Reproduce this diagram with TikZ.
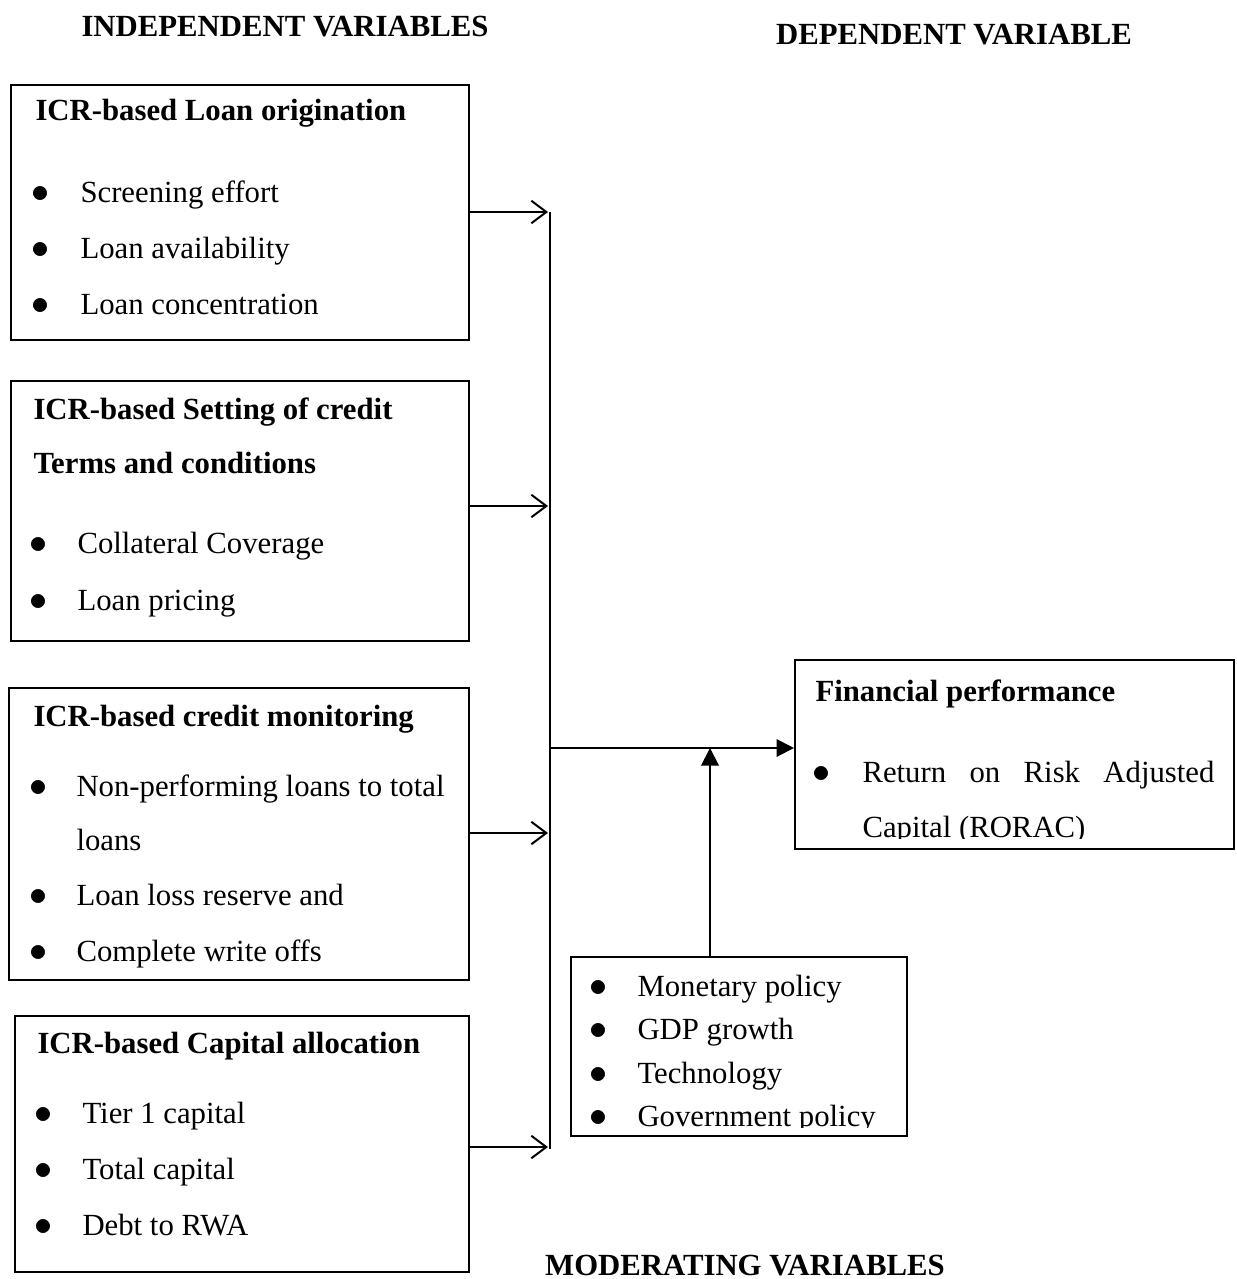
\documentclass[tikz,border=0pt]{standalone}
\usepackage{fontspec}
\setmainfont{Liberation Serif}
\usetikzlibrary{arrows.meta,fit}
\newcommand{\bodysize}{\fontsize{12.3}{14}\selectfont}
\newcommand{\blt}{\raisebox{-0.3pt}{\scalebox{1.2}{$\bullet$}}}
\tikzset{
  frame/.style={draw,line width=0.8pt,inner sep=0pt,fit={#1}},
  head/.style={font=\bodysize\bfseries,anchor=base,inner sep=0pt},
  title/.style={font=\bodysize\bfseries,anchor=base west,inner sep=0pt},
  item/.style={font=\bodysize,anchor=base west,inner sep=0pt},
  dot/.style={font=\bodysize,anchor=base,inner sep=0pt},
  feed/.style={-{Straight Barb[length=6pt,width=9pt]},line width=0.8pt},
  link/.style={-{Triangle[length=7pt,width=7pt]},line width=0.8pt}
}

\begin{document}
\begin{tikzpicture}[x=0.4pt,y=-0.4pt]
  \useasboundingbox (0,0) rectangle (1237,1279);
  % headings
  \node[head] (hindep) at (285,37) {INDEPENDENT VARIABLES};
  \node[head] (hdep) at (954,45) {DEPENDENT VARIABLE};
  \node[head] (hmod) at (745,1275) {MODERATING VARIABLES};

  % independent variable boxes
  \node[frame={(11,85)(469,340)}] (orig) {};
  \node[title] (origt) at (35,121) {ICR-based Loan origination};
  \foreach \y/\t in {202/Screening effort,258/Loan availability,314/Loan concentration}{
    \node[dot] at (40,\y) {\blt};
    \node[item] at (80,\y) {\t};}

  \node[frame={(11,381)(469,641)}] (terms) {};
  \node[title] (termst) at (33,419) {ICR-based Setting of credit};
  \node[title] (termst2) at (33,473) {Terms and conditions};
  \foreach \y/\t in {553/Collateral Coverage,610/Loan pricing}{
    \node[dot] at (38,\y) {\blt};
    \node[item] at (77,\y) {\t};}

  \node[frame={(9,688)(469,980)}] (monit) {};
  \node[title] (monitt) at (33,726) {ICR-based credit monitoring};
  \foreach \y/\t in {796/Non-performing loans to total,905/Loan loss reserve and,961/Complete write offs}{
    \node[dot] at (38,\y) {\blt};
    \node[item] at (76,\y) {\t};}
  \node[item] at (76,850) {loans};

  \node[frame={(15,1016)(469,1272)}] (alloc) {};
  \node[title] (alloct) at (37,1053) {ICR-based Capital allocation};
  \foreach \y/\t in {1123/Tier 1 capital,1179/Total capital,1235/Debt to RWA}{
    \node[dot] at (43,\y) {\blt};
    \node[item] at (82,\y) {\t};}

  % dependent variable
  \node[frame={(795,660)(1234,849)}] (perf) {};
  \node[title] (perft) at (815,701) {Financial performance};
  \node[dot] at (821,782) {\blt};
  \node[item] at (862,782) {\makebox[140.8pt][s]{Return\hfill on\hfill Risk\hfill Adjusted}};
  \begin{scope}
    \clip (795,660) rectangle (1234,838);
    \node[item] at (862,837) {Capital (RORAC)};
  \end{scope}

  % moderating variables
  \node[frame={(571,957)(907,1136)}] (mod) {};
  \foreach \y/\t in {996/Monetary policy,1039/GDP growth,1083/Technology}{
    \node[dot] at (598,\y) {\blt};
    \node[item] at (637,\y) {\t};}
  \node[dot] at (598,1126) {\blt};
  \begin{scope}
    \clip (571,957) rectangle (907,1127);
    \node[item] at (637,1126) {Government policy};
  \end{scope}

  % connectors
  \coordinate (spinetop) at (550,212);
  \coordinate (spinebot) at (550,1149);
  \draw[line width=0.8pt] (spinetop) -- (spinebot);
  \coordinate (in1) at (548,212);
  \coordinate (in2) at (548,506);
  \coordinate (in3) at (548,833);
  \coordinate (in4) at (548,1147);
  \draw[feed] (orig.east |- in1) -- (in1);
  \draw[feed] (terms.east |- in2) -- (in2);
  \draw[feed] (monit.east |- in3) -- (in3);
  \draw[feed] (alloc.east |- in4) -- (in4);
  \coordinate (hub) at (550,748);
  \draw[link] (hub) -- (hub -| perf.west);
  \coordinate (meet) at (710,748);
  \draw[link] (mod.north -| meet) -- (meet);
\end{tikzpicture}
\end{document}
